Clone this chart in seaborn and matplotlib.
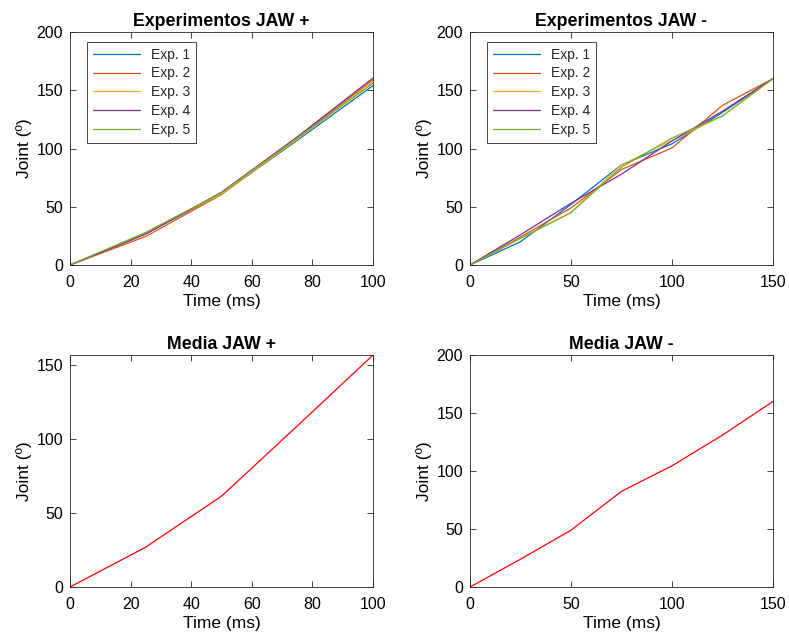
import matplotlib
matplotlib.use('Agg')
import matplotlib.pyplot as plt
import pandas as pd
import numpy as np
import seaborn as sns

# JAW + experiments
t_plus = [0, 25, 50, 75, 100]
plus_exp1 = [0, 27, 61, 107, 154]
plus_exp2 = [0, 24.5, 60.5, 109, 159]
plus_exp3 = [0, 27.5, 61, 108, 157.5]
plus_exp4 = [0, 26.5, 62.5, 110, 160.5]
plus_exp5 = [0, 28, 62, 109, 156]
mean_plus = [0, 27, 61.5, 109, 157]

# JAW - experiments
t_minus = [0, 25, 50, 75, 100, 125, 150]
minus_exp1 = [0, 20, 52, 86, 104, 131, 160]
minus_exp2 = [0, 24, 49, 82, 100.5, 137, 160]
minus_exp3 = [0, 23, 45, 86, 107, 128, 160]
minus_exp4 = [0, 26, 53, 78, 106.5, 132, 160]
minus_exp5 = [0, 23, 45, 84, 109, 128, 160]
mean_minus = [0, 24, 49, 82.5, 104.5, 131, 160]

exp_labels = ['Exp. 1', 'Exp. 2', 'Exp. 3', 'Exp. 4', 'Exp. 5']
matlab_colors = ['#0072BD', '#D95319', '#EDB120', '#7E2F8E', '#77AC30']

sns.set_style('ticks')
plt.rcParams['font.family'] = ['Liberation Sans', 'DejaVu Sans']

fig = plt.figure(figsize=(7.89, 6.36), dpi=100)
ax1 = fig.add_axes([0.0887, 0.5833, 0.3841, 0.3664])
ax2 = fig.add_axes([0.5957, 0.5833, 0.3840, 0.3664])
ax3 = fig.add_axes([0.0887, 0.0770, 0.3841, 0.3648])
ax4 = fig.add_axes([0.5957, 0.0770, 0.3840, 0.3648])

plus = pd.DataFrame({'t': t_plus * 5,
                     'v': plus_exp1 + plus_exp2 + plus_exp3 + plus_exp4 + plus_exp5,
                     'exp': np.repeat(exp_labels, len(t_plus))})
minus = pd.DataFrame({'t': t_minus * 5,
                      'v': minus_exp1 + minus_exp2 + minus_exp3 + minus_exp4 + minus_exp5,
                      'exp': np.repeat(exp_labels, len(t_minus))})

sns.lineplot(data=plus, x='t', y='v', hue='exp', palette=matlab_colors, linewidth=0.9, ax=ax1)
sns.lineplot(data=minus, x='t', y='v', hue='exp', palette=matlab_colors, linewidth=0.9, ax=ax2)
sns.lineplot(x=t_plus, y=mean_plus, color='#FF0000', linewidth=0.9, ax=ax3)
sns.lineplot(x=t_minus, y=mean_minus, color='#FF0000', linewidth=0.9, ax=ax4)

settings = [
    (ax1, 'Experimentos JAW +', (0, 100), [0, 20, 40, 60, 80, 100], (0, 200), [0, 50, 100, 150, 200]),
    (ax2, 'Experimentos JAW -', (0, 150), [0, 50, 100, 150], (0, 200), [0, 50, 100, 150, 200]),
    (ax3, 'Media JAW +', (0, 100), [0, 20, 40, 60, 80, 100], (0, 157), [0, 50, 100, 150]),
    (ax4, 'Media JAW -', (0, 150), [0, 50, 100, 150], (0, 200), [0, 50, 100, 150, 200]),
]
for ax, title, xl, xt, yl, yt in settings:
    ax.set_xlim(*xl)
    ax.set_ylim(*yl)
    ax.set_xticks(xt)
    ax.set_yticks(yt)
    ax.set_title(title, fontsize=12.8, fontweight='bold', pad=4.5, color='black')
    ax.set_xlabel('Time (ms)', fontsize=12.5, labelpad=3, color='black')
    ax.set_ylabel('Joint (º)', fontsize=12.5, labelpad=3, color='black')
    ax.tick_params(direction='in', top=True, right=True, labelsize=11.5, length=4,
                   width=0.6, color='#262626', labelcolor='black', pad=5)
    ax.tick_params(axis='x', pad=7)
    for s in ax.spines.values():
        s.set_linewidth(0.6)
        s.set_color('#262626')

for ax in (ax1, ax2):
    leg = ax.legend(loc='upper left', bbox_to_anchor=(0.056, 0.957), borderaxespad=0,
                    fontsize=10, frameon=True, fancybox=False,
                    edgecolor='#262626', framealpha=1, handlelength=3.4,
                    labelspacing=0.35, title=None)
    leg.get_frame().set_linewidth(0.6)

fig.savefig('out.png', dpi=100)
